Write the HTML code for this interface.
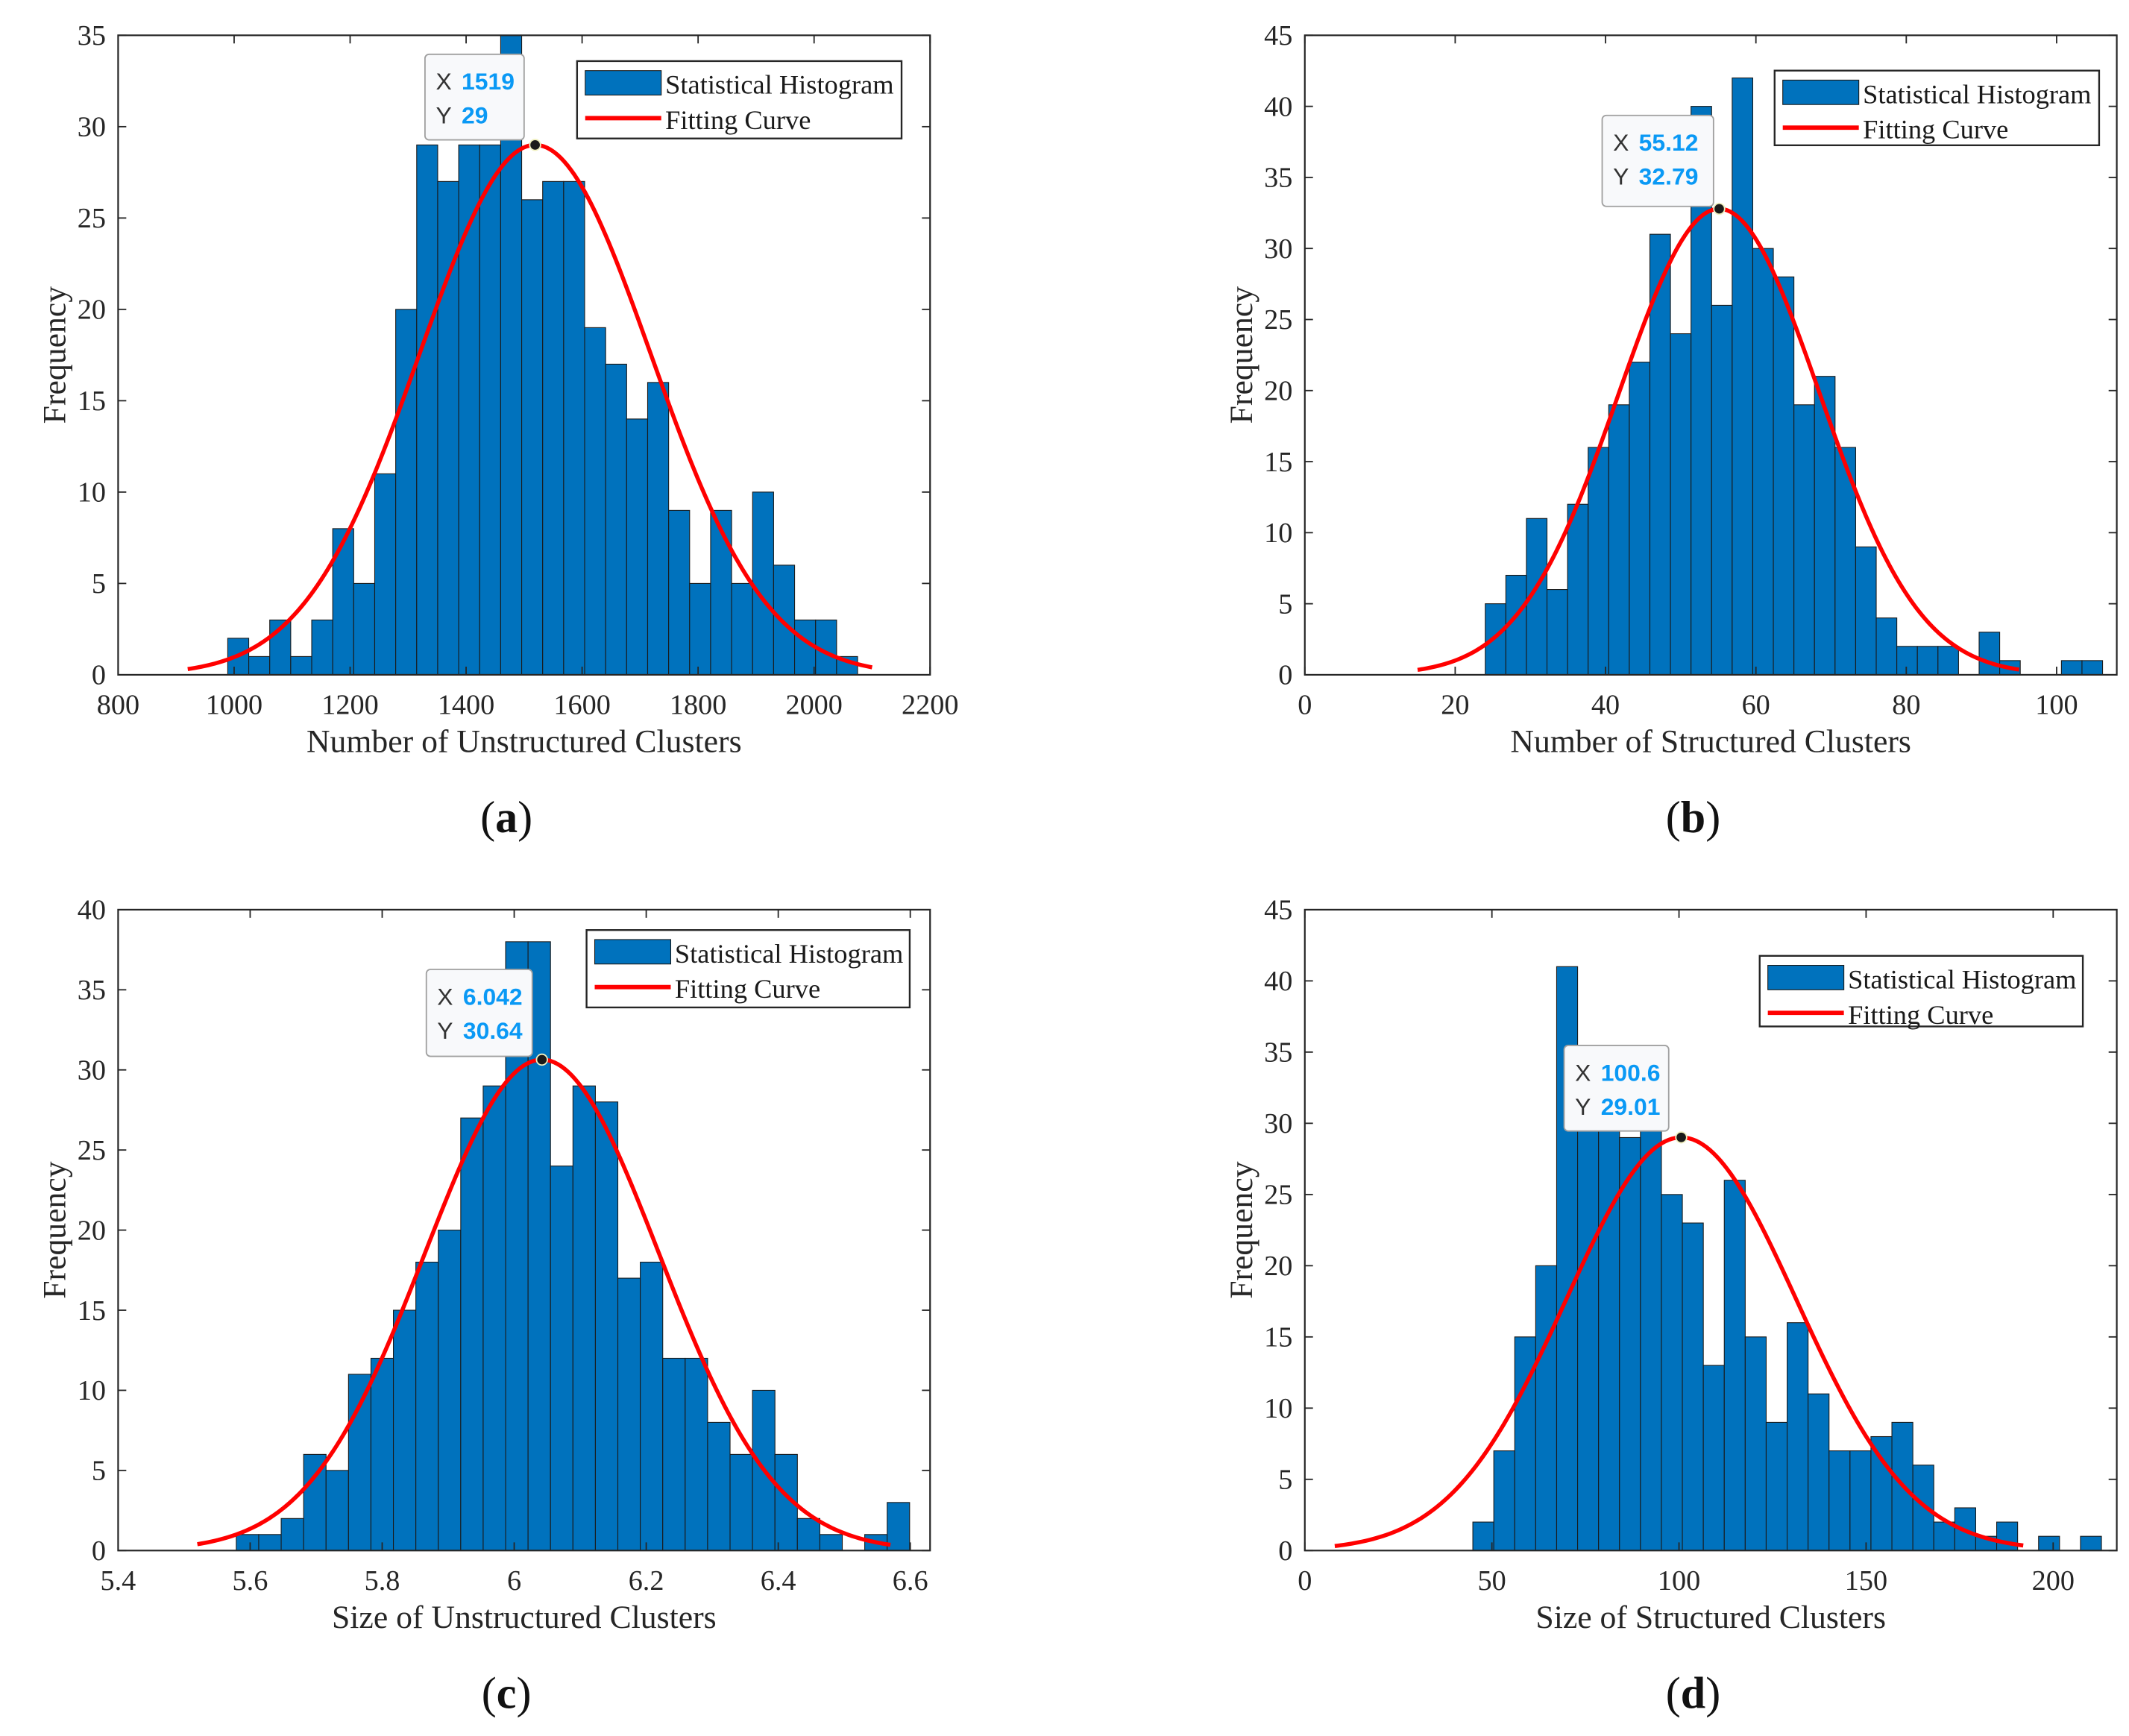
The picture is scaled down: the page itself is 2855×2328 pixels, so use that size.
<!DOCTYPE html>
<html><head><meta charset="utf-8">
<style>
html,body{margin:0;padding:0;background:#fff;}
svg{display:block;}
</style></head>
<body>
<svg id="fig" width="2855" height="2328" viewBox="0 0 1568 1278.6" preserveAspectRatio="none" xmlns="http://www.w3.org/2000/svg"></svg>
<script>
// ---- data (a) ----
const aCounts=[2,1,3,1,3,8,5,11,20,29,27,29,29,36,26,27,27,19,17,14,16,9,5,9,5,10,6,3,3,1];
const aBinStart=989, aBinWidth=36.2;
const aXTicks=[800,1000,1200,1400,1600,1800,2000,2200];
const aYTicks=[0,5,10,15,20,25,30,35];
const aFit={mean:1519,sd:199,peak:29,from:920,to:2100};
const aTip=["1519","29"];
// ---- data (b) ----
const bCounts=[5,7,11,6,12,16,19,22,31,24,40,26,42,30,28,19,21,16,9,4,2,2,2,0,3,1,0,0,1,1];
const bBinStart=24, bBinWidth=2.737;
const bXTicks=[0,20,40,60,80,100];
const bYTicks=[0,5,10,15,20,25,30,35,40,45];
const bFit={mean:55.12,sd:13.3,peak:32.79,from:15,to:95};
const bTip=["55.12","32.79"];
// ---- data (c) ----
const cCounts=[1,1,2,6,5,11,12,15,18,20,27,29,38,38,24,29,28,17,18,12,12,8,6,10,6,2,1,0,1,3];
const cBinStart=5.579, cBinWidth=0.034;
const cXTicks=[5.4,5.6,5.8,6,6.2,6.4,6.6];
const cYTicks=[0,5,10,15,20,25,30,35,40];
const cFit={mean:6.042,sd:0.177,peak:30.64,from:5.52,to:6.57};
const cTip=["6.042","30.64"];
// ---- data (d) ----
const dCounts=[2,7,15,20,41,31,30,29,31,25,23,13,26,15,9,16,11,7,7,8,9,6,2,3,1,2,0,1,0,1];
const dBinStart=44.9, dBinWidth=5.6;
const dXTicks=[0,50,100,150,200];
const dYTicks=[0,5,10,15,20,25,30,35,40,45];
const dFit={mean:100.6,sd:30.8,peak:29.01,from:8,to:192};
const dTip=["100.6","29.01"];

const NS="http://www.w3.org/2000/svg";
const svg=document.getElementById('fig');
function mk(tag,attrs,parent,text){const e=document.createElementNS(NS,tag);for(const k in attrs)e.setAttribute(k,attrs[k]);if(text!==undefined)e.textContent=text;(parent||svg).appendChild(e);return e;}

function chart(o){
  const g=mk('g',{});
  
  
  const X=v=>o.L+(v-o.xmin)/(o.xmax-o.xmin)*(o.R-o.L);
  const Y=v=>o.B-(v-o.ymin)/(o.ymax-o.ymin)*(o.B-o.T);
  const cid='clip'+o.id;
  const cp=mk('clipPath',{id:cid},g);mk('rect',{x:o.L,y:o.T,width:o.R-o.L,height:o.B-o.T},cp);
  const bars=mk('g',{'clip-path':'url(#'+cid+')'},g);
  o.counts.forEach((c,i)=>{
    if(c<=0)return;
    const x0=X(o.binStart+i*o.binWidth), x1=X(o.binStart+(i+1)*o.binWidth);
    const r=mk('rect',{x:x0,y:Y(c),width:x1-x0,height:Y(0)-Y(c),fill:'#0072bd',stroke:'#1a1a1a','stroke-width':0.6},bars);
    
    
  });
  const f=o.fit;let d='';
  for(let k=0;k<=200;k++){const xv=f.from+(f.to-f.from)*k/200;const yv=f.peak*Math.exp(-0.5*Math.pow((xv-f.mean)/f.sd,2));d+=(k?'L':'M')+X(xv).toFixed(2)+' '+Y(yv).toFixed(2);}
  const p=mk('path',{d:d,fill:'none',stroke:'#ff0000','stroke-width':3},bars);
  
  
  const box=mk('rect',{x:o.L,y:o.T,width:o.R-o.L,height:o.B-o.T,fill:'none',stroke:'#262626','stroke-width':1.2},g);
  
  
  const tl=6;
  o.xt.forEach(v=>{const x=X(v);
    mk('line',{x1:x,y1:o.B,x2:x,y2:o.B-tl,stroke:'#262626','stroke-width':1},g);
    mk('line',{x1:x,y1:o.T,x2:x,y2:o.T+tl,stroke:'#262626','stroke-width':1},g);
    const t=mk('text',{x:x,y:o.B+29,'text-anchor':'middle','font-size':21,fill:'#262626','font-family':'Liberation Serif, serif'},g,String(v));
    
    
  });
  o.yt.forEach(v=>{const y=Y(v);
    mk('line',{x1:o.L,y1:y,x2:o.L+tl,y2:y,stroke:'#262626','stroke-width':1},g);
    mk('line',{x1:o.R,y1:y,x2:o.R-tl,y2:y,stroke:'#262626','stroke-width':1},g);
    const t=mk('text',{x:o.L-9,y:y+7,'text-anchor':'end','font-size':21,fill:'#262626','font-family':'Liberation Serif, serif'},g,String(v));
    
    
  });
  const xt=mk('text',{x:(o.L+o.R)/2,y:o.B+57,'text-anchor':'middle','font-size':24,fill:'#262626','font-family':'Liberation Serif, serif'},g,o.xlabel);
  
  
  const cy=(o.T+o.B)/2;
  const yt=mk('text',{x:o.L-39,y:cy,'text-anchor':'middle','font-size':24,fill:'#262626','font-family':'Liberation Serif, serif',transform:'rotate(-90 '+(o.L-39)+' '+cy+')'},g,'Frequency');
  
  
  const lg=mk('g',{},g);
  
  
  const [lx,ly,lw,lh]=o.leg;
  mk('rect',{x:lx,y:ly,width:lw,height:lh,fill:'#fff',stroke:'#262626','stroke-width':1.3},lg);
  const e1=mk('rect',{x:lx+6,y:ly+7,width:56,height:18,fill:'#0072bd',stroke:'#1a1a1a','stroke-width':0.6},lg);
  
  
  mk('text',{x:lx+65,y:ly+24,'font-size':20,fill:'#1a1a1a','font-family':'Liberation Serif, serif'},lg,'Statistical Histogram');
  const e2=mk('line',{x1:lx+6,y1:ly+42,x2:lx+62,y2:ly+42,stroke:'#ff0000','stroke-width':3.2},lg);
  
  
  mk('text',{x:lx+65,y:ly+50,'font-size':20,fill:'#1a1a1a','font-family':'Liberation Serif, serif'},lg,'Fitting Curve');
  const px=X(f.mean), py=Y(f.peak);
  const tg=mk('g',{},g);
  
  
  const [tx,ty,tw,th]=o.tipBox;
  mk('rect',{x:tx,y:ty,width:tw,height:th,rx:3,fill:'#f8f9fb',stroke:'#a0a0a0','stroke-width':1},tg);
  mk('text',{x:tx+8,y:ty+26,'font-size':17.5,fill:'#333','font-family':'Liberation Sans, sans-serif'},tg,'X ');
  mk('text',{x:tx+27,y:ty+26,'font-size':17.5,'font-weight':'bold',fill:'#0a99f5','font-family':'Liberation Sans, sans-serif'},tg,o.tip[0]);
  mk('text',{x:tx+8,y:ty+51,'font-size':17.5,fill:'#333','font-family':'Liberation Sans, sans-serif'},tg,'Y ');
  mk('text',{x:tx+27,y:ty+51,'font-size':17.5,'font-weight':'bold',fill:'#0a99f5','font-family':'Liberation Sans, sans-serif'},tg,o.tip[1]);
  mk('circle',{cx:px,cy:py,r:4,fill:'#1a1a1a',stroke:'#f0f0c0','stroke-width':1},tg);
  const pl=mk('text',{x:(o.L+o.R)/2-13,y:o.B+116,'text-anchor':'middle','font-size':33,fill:'#111','font-family':'Liberation Serif, serif'},g);
  mk('tspan',{},pl,'(');mk('tspan',{'font-weight':'bold'},pl,o.id);mk('tspan',{},pl,')');
  
  
}

chart({id:'a',L:87,R:685,T:26,B:497,xmin:800,xmax:2200,ymin:0,ymax:35,counts:aCounts,binStart:aBinStart,binWidth:aBinWidth,xt:aXTicks,yt:aYTicks,fit:aFit,tip:aTip,xlabel:'Number of Unstructured Clusters',leg:[425,45,239,57],tipBox:[313,40,73,63]});
chart({id:'b',L:961,R:1559,T:26,B:497,xmin:0,xmax:108,ymin:0,ymax:45,counts:bCounts,binStart:bBinStart,binWidth:bBinWidth,xt:bXTicks,yt:bYTicks,fit:bFit,tip:bTip,xlabel:'Number of Structured Clusters',leg:[1307,52,239,55],tipBox:[1180,85,82,67]});
chart({id:'c',L:87,R:685,T:670,B:1142,xmin:5.4,xmax:6.63,ymin:0,ymax:40,counts:cCounts,binStart:cBinStart,binWidth:cBinWidth,xt:cXTicks,yt:cYTicks,fit:cFit,tip:cTip,xlabel:'Size of Unstructured Clusters',leg:[432,685,238,57],tipBox:[314,714,78,64]});
chart({id:'d',L:961,R:1559,T:670,B:1142,xmin:0,xmax:217,ymin:0,ymax:45,counts:dCounts,binStart:dBinStart,binWidth:dBinWidth,xt:dXTicks,yt:dYTicks,fit:dFit,tip:dTip,xlabel:'Size of Structured Clusters',leg:[1296,704,238,52],tipBox:[1152,770,77,63]});
</script>
</body></html>
